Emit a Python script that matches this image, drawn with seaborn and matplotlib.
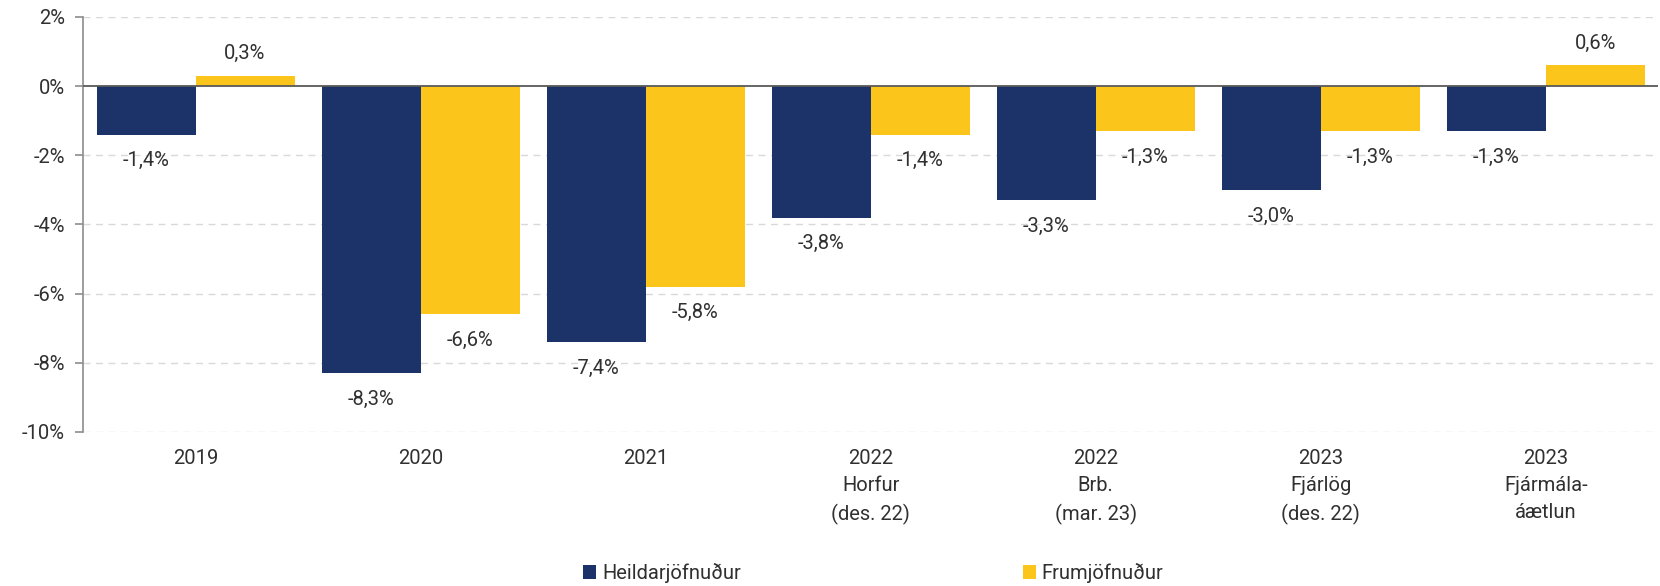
import matplotlib
matplotlib.use("Agg")
import matplotlib.pyplot as plt
import seaborn as sns
import pandas as pd

categories = ["2019", "2020", "2021", "2022\nHorfur\n(des. 22)", "2022\nBrb.\n(mar. 23)",
              "2023\nFjárlög\n(des. 22)", "2023\nFjármála-\náætlun"]
heildar = [-1.4, -8.3, -7.4, -3.8, -3.3, -3.0, -1.3]
frum = [0.3, -6.6, -5.8, -1.4, -1.3, -1.3, 0.6]
series_names = ["Heildarjöfnuður", "Frumjöfnuður"]
yticks = [2, 0, -2, -4, -6, -8, -10]

df = pd.DataFrame({
    "cat": categories * 2,
    "val": heildar + frum,
    "series": [series_names[0]] * len(categories) + [series_names[1]] * len(categories),
})

sns.set_theme(style="white")
plt.rcParams['font.family'] = ['Roboto', 'DejaVu Sans']
plt.rcParams['font.weight'] = 'normal'
TXT = "#303030"
FS = 14.5

fig = plt.figure(figsize=(16.6, 5.86), dpi=100)
ax = fig.add_axes([0.05, 0.263, 0.949, 0.708])

palette = {series_names[0]: "#1b3369", series_names[1]: "#fcc51b"}
sns.barplot(data=df, x="cat", y="val", hue="series", palette=palette, width=0.88,
            dodge=True, saturation=1, ax=ax, legend=False, errorbar=None,
            linewidth=0)

ax.set_ylim(-10, 2)
ax.set_yticks(yticks)
ax.set_yticklabels([f"{t}%" for t in yticks], fontsize=FS, color=TXT)
ax.set_xlabel("")
ax.set_ylabel("")
ax.tick_params(axis="x", length=0, labelsize=FS, labelcolor=TXT, pad=12)
ax.tick_params(axis="y", length=6, width=1.2, color="#8c8c8c", labelsize=FS, labelcolor=TXT, left=True, pad=7)
for lbl in ax.get_xticklabels():
    lbl.set_linespacing(1.55)

for y in yticks:
    if y != 0:
        ax.axhline(y, color="#d9d9d9", lw=1, ls=(0, (5, 4)), zorder=0)
ax.axhline(0, color="#595959", lw=1.3, zorder=3)

for s in ["top", "right", "bottom"]:
    ax.spines[s].set_visible(False)
ax.spines["left"].set_color("#8c8c8c")
ax.spines["left"].set_linewidth(1.2)

for cont in ax.containers:
    vals = [b.get_height() for b in cont]
    labels = [f"{v:.1f}%".replace(".", ",") for v in vals]
    for b, lab, v in zip(cont, labels, vals):
        x = b.get_x() + b.get_width() / 2
        if v >= 0:
            ax.annotate(lab, (x, v), xytext=(0, 9), textcoords="offset points",
                        ha="center", va="bottom", fontsize=FS, color=TXT)
        else:
            ax.annotate(lab, (x, v), xytext=(0, -12), textcoords="offset points",
                        ha="center", va="top", fontsize=FS, color=TXT)

from matplotlib.patches import Patch
handles = [Patch(facecolor=palette[n], edgecolor="none") for n in series_names]
fig.legend(handles, series_names, loc="center", bbox_to_anchor=(0.526, 0.022), ncol=2,
           frameon=False, fontsize=FS, handlelength=0.65, handleheight=0.65,
           handletextpad=0.3, columnspacing=14.0, labelcolor=TXT)

fig.savefig("out.png", dpi=100)
